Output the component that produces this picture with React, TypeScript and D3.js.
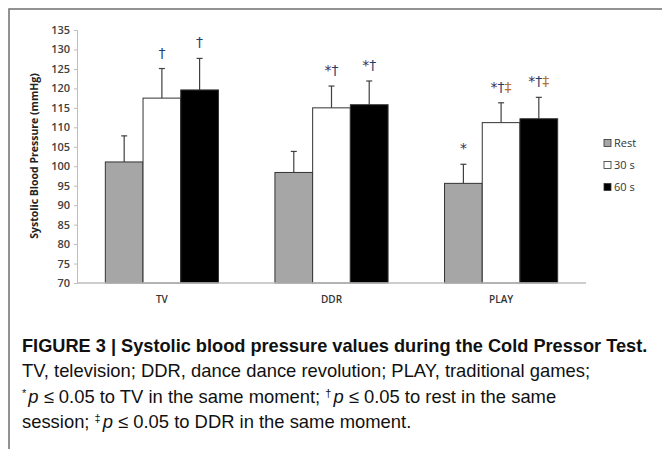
import { useEffect, useRef } from "react"
import * as d3 from "d3"

const categories = ["TV", "DDR", "PLAY"]
const seriesNames = ["Rest", "30 s", "60 s"]
const seriesColors = ["#a6a6a6", "#ffffff", "#000000"]
// mean values per series (rows) for TV, DDR, PLAY
const restValues = [101.1, 98.4, 95.6]
const thirtyValues = [117.5, 115.0, 111.2]
const sixtyValues = [119.6, 115.8, 112.2]
// upper error bar end
const restErrTop = [107.8, 103.8, 100.5]
const thirtyErrTop = [125.1, 120.6, 116.3]
const sixtyErrTop = [127.7, 121.9, 117.7]
// significance marks
const restMarks = ["", "", "*"]
const thirtyMarks = ["†", "*†", "*†‡"]
const sixtyMarks = ["†", "*†", "*†‡"]
const yTicks = [70, 75, 80, 85, 90, 95, 100, 105, 110, 115, 120, 125, 130, 135]

const markColor: Record<string, string> = { "*": "#3d2b4f", "†": "#1f3f73", "‡": "#b8732a" }

const App = () => {
  const svgRef = useRef<SVGSVGElement | null>(null)

  useEffect(() => {
    if (!svgRef.current) return
    const svg = d3.select(svgRef.current)
    svg.selectAll("*").remove()

    const chartFont = "'Open Sans', 'DejaVu Sans', sans-serif"
    const capFont = "'Liberation Sans', Arial, sans-serif"

    // frame
    svg.append("path").attr("d", "M9,449 V9 H662").attr("fill", "none").attr("stroke", "#6f6f6f").attr("stroke-width", 1.5)

    const y = d3.scaleLinear().domain([70, 135]).range([283, 30])
    const x0 = d3.scaleBand().domain(categories).range([77, 586]).paddingInner(0.333).paddingOuter(0.167)
    const x1 = d3.scaleBand().domain(seriesNames).range([0, x0.bandwidth()])

    const series = [
      { name: seriesNames[0], color: seriesColors[0], values: restValues, err: restErrTop, marks: restMarks },
      { name: seriesNames[1], color: seriesColors[1], values: thirtyValues, err: thirtyErrTop, marks: thirtyMarks },
      { name: seriesNames[2], color: seriesColors[2], values: sixtyValues, err: sixtyErrTop, marks: sixtyMarks },
    ]

    // y axis
    const yAxis = svg.append("g").attr("transform", "translate(77,0)")
      .call(d3.axisLeft(y).tickValues(yTicks).tickSize(3).tickPadding(4))
    yAxis.select(".domain").attr("stroke", "#bdbdbd")
    yAxis.selectAll(".tick line").attr("stroke", "#bdbdbd")
    yAxis.selectAll("text").attr("font-family", chartFont).attr("font-size", 11).attr("font-weight", 600).attr("fill", "#404040")

    svg.append("text")
      .attr("transform", "translate(38,156) rotate(-90)")
      .attr("text-anchor", "middle")
      .attr("font-family", chartFont).attr("font-size", 10.5).attr("font-weight", 700).attr("fill", "#222")
      .text("Systolic Blood Pressure (mmHg)")

    // bars
    series.forEach((s) => {
      const g = svg.append("g")
      categories.forEach((c, i) => {
        const bx = (x0(c) || 0) + (x1(s.name) || 0)
        const w = x1.bandwidth()
        const cx = bx + w / 2
        // error bar (upper only)
        g.append("line").attr("x1", cx).attr("x2", cx).attr("y1", y(s.values[i])).attr("y2", y(s.err[i]))
          .attr("stroke", "#404040").attr("stroke-width", 1.2)
        g.append("line").attr("x1", cx - 3).attr("x2", cx + 3).attr("y1", y(s.err[i])).attr("y2", y(s.err[i]))
          .attr("stroke", "#404040").attr("stroke-width", 1.2)
        g.append("rect").attr("x", bx).attr("y", y(s.values[i])).attr("width", w).attr("height", y(70) - y(s.values[i]))
          .attr("fill", s.color).attr("stroke", "#333").attr("stroke-width", 1)
        if (s.marks[i]) {
          const t = g.append("text").attr("x", cx).attr("y", y(s.err[i]) - 11)
            .attr("text-anchor", "middle").attr("font-family", "'DejaVu Sans', sans-serif").attr("font-size", 14)
          s.marks[i].split("").forEach((ch) => {
            t.append("tspan").attr("fill", markColor[ch]).text(ch)
          })
        }
      })
    })

    // x axis line
    svg.append("line").attr("x1", 77).attr("x2", 586).attr("y1", y(70)).attr("y2", y(70))
      .attr("stroke", "#bdbdbd").attr("stroke-width", 1.5)
    categories.forEach((c) => {
      svg.append("text").attr("x", (x0(c) || 0) + x0.bandwidth() / 2).attr("y", 303)
        .attr("text-anchor", "middle").attr("font-family", chartFont).attr("font-size", 10).attr("font-weight", 600)
        .attr("fill", "#333").text(c)
    })

    // legend
    series.forEach((s, i) => {
      const ly = 143 + i * 22
      svg.append("rect").attr("x", 604).attr("y", ly - 3.5).attr("width", 7).attr("height", 7)
        .attr("fill", s.color).attr("stroke", "#333").attr("stroke-width", 0.8)
      svg.append("text").attr("x", 614).attr("y", ly + 4)
        .attr("font-family", chartFont).attr("font-size", 11).attr("fill", "#333").text(s.name)
    })

    // caption
    const cap = svg.append("g").attr("font-family", capFont).attr("fill", "#111")
    cap.append("text").attr("x", 22).attr("y", 352).attr("font-size", 18.2).attr("font-weight", 700)
      .text("FIGURE 3 | Systolic blood pressure values during the Cold Pressor Test.")
    cap.append("text").attr("x", 22).attr("y", 377).attr("font-size", 18.4)
      .text("TV, television; DDR, dance dance revolution; PLAY, traditional games;")
    const l3 = cap.append("text").attr("x", 22).attr("y", 403).attr("font-size", 18.4)
    l3.append("tspan").attr("font-size", 11).attr("dy", -6).text("*")
    l3.append("tspan").attr("font-style", "italic").attr("dy", 6).attr("dx", 2).text("p")
    l3.append("tspan").text(" ≤ 0.05 to TV in the same moment; ")
    l3.append("tspan").attr("font-size", 11).attr("dy", -6).text("†")
    l3.append("tspan").attr("font-style", "italic").attr("dy", 6).attr("dx", 2).text("p")
    l3.append("tspan").text(" ≤ 0.05 to rest in the same")
    const l4 = cap.append("text").attr("x", 22).attr("y", 428).attr("font-size", 18.4)
    l4.append("tspan").text("session; ")
    l4.append("tspan").attr("font-size", 11).attr("dy", -6).text("‡")
    l4.append("tspan").attr("font-style", "italic").attr("dy", 6).attr("dx", 2).text("p")
    l4.append("tspan").text(" ≤ 0.05 to DDR in the same moment.")
  }, [])

  return (
    <svg ref={svgRef} width={662} height={449} style={{ position: "absolute", left: 0, top: 0, background: "#fff" }} />
  )
}

export default App
